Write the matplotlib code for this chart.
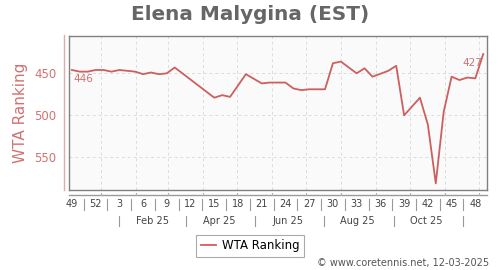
import matplotlib
matplotlib.use('Agg')
import matplotlib.pyplot as plt
import matplotlib.dates as mdates
import matplotlib.transforms as mtransforms
from matplotlib.lines import Line2D
import pandas as pd

# ---- data ----
dates = ['2024-12-06', '2024-12-13', '2024-12-20', '2024-12-27', '2025-01-03',
         '2025-01-10', '2025-01-17', '2025-01-24', '2025-01-31', '2025-02-07',
         '2025-02-14', '2025-02-21', '2025-02-28', '2025-03-07', '2025-04-11',
         '2025-04-18', '2025-04-25', '2025-05-09', '2025-05-23', '2025-05-30',
         '2025-06-13', '2025-06-20', '2025-06-27', '2025-07-04', '2025-07-18',
         '2025-07-25', '2025-08-01', '2025-08-15', '2025-08-22', '2025-08-29',
         '2025-09-12', '2025-09-19', '2025-09-26', '2025-10-10', '2025-10-17',
         '2025-10-24', '2025-10-31', '2025-11-07', '2025-11-14', '2025-11-21',
         '2025-11-28', '2025-12-05']
ranks = [446, 448, 448, 446, 446, 448, 446, 447, 448, 451,
         449, 451, 450, 443, 479, 476, 478, 451, 462, 461,
         461, 468, 470, 469, 469, 438, 436, 450, 444, 454,
         447, 441, 500, 479, 511, 581, 496, 454, 458, 455,
         456, 427]

week_labels = ['49', '52', '3', '6', '9', '12', '15', '18', '21', '24', '27',
               '30', '33', '36', '39', '42', '45', '48']
week_label_dates = ['2024-12-06', '2024-12-27', '2025-01-17', '2025-02-07',
                    '2025-02-28', '2025-03-21', '2025-04-11', '2025-05-02',
                    '2025-05-23', '2025-06-13', '2025-07-04', '2025-07-25',
                    '2025-08-15', '2025-09-05', '2025-09-26', '2025-10-17',
                    '2025-11-07', '2025-11-28']
month_labels = ['Feb 25', 'Apr 25', 'Jun 25', 'Aug 25', 'Oct 25']
month_label_dates = ['2025-02-15', '2025-04-15', '2025-06-15', '2025-08-16', '2025-10-16']
month_sep_dates = ['2025-01-17', '2025-03-17', '2025-05-17', '2025-07-17',
                   '2025-09-17', '2025-11-17']
grid_dates = ['2025-01-01', '2025-02-01', '2025-03-01', '2025-04-01', '2025-05-01',
              '2025-06-01', '2025-07-01', '2025-08-01', '2025-09-01', '2025-10-01',
              '2025-11-01', '2025-12-01']
y_ticks = [450, 500, 550]
first_label = '446'
last_label = '427'

LINE = '#cd5f5f'
LABEL = '#d27272'

W, H = 500, 270
fig = plt.figure(figsize=(5, 2.7), dpi=100)
L, R, T, B = 68.7, 487.3, 35.7, 190.0
ax = fig.add_axes([L / W, 1 - B / H, (R - L) / W, (B - T) / H])
ax.set_facecolor('#fafafa')

x = mdates.date2num(pd.to_datetime(dates))
ax.plot(x, ranks, color=LINE, lw=1.3, zorder=3)

x0 = mdates.date2num(pd.Timestamp('2025-01-01'))
ax.set_xlim(x0 - 28.8, x0 + 341.6)
ax.set_ylim(588.9, 405.2)

gx = mdates.date2num(pd.to_datetime(grid_dates))
ax.set_xticks(gx)
ax.set_yticks(y_ticks)
ax.grid(True, color='#dcdcdc', ls=(0, (3, 3)), lw=0.7)
ax.tick_params(axis='x', length=0, labelbottom=False)
ax.tick_params(axis='y', length=0, pad=9, labelsize=8.5, labelcolor=LABEL)
for s in ax.spines.values():
    s.set_color('#808080')
    s.set_linewidth(1.0)

# annotations
ax.annotate(first_label, (x[0], ranks[0]), xytext=(1, -6.5), textcoords='offset points',
            ha='left', va='center', fontsize=7.5, color=LABEL)
ax.annotate(last_label, (x[-1], ranks[-1]), xytext=(-0.5, -6.7), textcoords='offset points',
            ha='right', va='center', fontsize=7.5, color=LABEL)

# y axis line (outside frame)
fig.add_artist(Line2D([63.7 / W, 63.7 / W], [1 - 35 / H, 1 - 190 / H],
                      color='#e2a9a9', lw=1.0))
fig.text(21 / W, 1 - 112.4 / H, 'WTA Ranking', rotation=90, ha='center', va='center',
         fontsize=11, color=LABEL)

# bottom axis line and ticks
trans = mtransforms.blended_transform_factory(ax.transData, fig.transFigure)
fig.add_artist(Line2D([L / W, R / W], [1 - 195 / H, 1 - 195 / H], color='#9a9a9a', lw=1.0))
for g in gx:
    fig.add_artist(Line2D([g, g], [1 - 192.5 / H, 1 - 195 / H], color='#b0b0b0', lw=0.8,
                          transform=trans))

wx = mdates.date2num(pd.to_datetime(week_label_dates))
for xi, lab in zip(wx, week_labels):
    fig.text(xi, 1 - 204.3 / H, lab, transform=trans, ha='center', va='center',
             fontsize=7, color='#444444')
for a, b in zip(wx[:-1], wx[1:]):
    m = (a + b) / 2
    fig.add_artist(Line2D([m, m], [1 - 198.5 / H, 1 - 209.5 / H], color='#999999', lw=0.8,
                          transform=trans))

mx = mdates.date2num(pd.to_datetime(month_label_dates))
for xi, lab in zip(mx, month_labels):
    fig.text(xi, 1 - 220.7 / H, lab, transform=trans, ha='center', va='center',
             fontsize=7, color='#444444')
sx = mdates.date2num(pd.to_datetime(month_sep_dates))
for s in sx:
    fig.add_artist(Line2D([s, s], [1 - 215.5 / H, 1 - 226 / H], color='#999999', lw=0.8,
                          transform=trans))

# title
fig.text(0.5, 1 - 14 / H, 'Elena Malygina (EST)', ha='center', va='center',
         fontsize=14.4, fontweight='bold', color='#666666')

# legend
leg = fig.legend([Line2D([], [], color=LINE, lw=1.3)], ['WTA Ranking'],
                 loc='center', bbox_to_anchor=(250 / W, 1 - 246 / H),
                 fontsize=8.5, handlelength=1.3, handletextpad=0.5,
                 borderpad=0.4, fancybox=False, edgecolor='#aaaaaa', framealpha=1)
leg.get_frame().set_linewidth(0.8)

fig.text(489 / W, 1 - 263.3 / H, '\u00a9 www.coretennis.net, 12-03-2025', ha='right',
         va='center', fontsize=7, color='#555555')

fig.savefig('out.png', dpi=100)
